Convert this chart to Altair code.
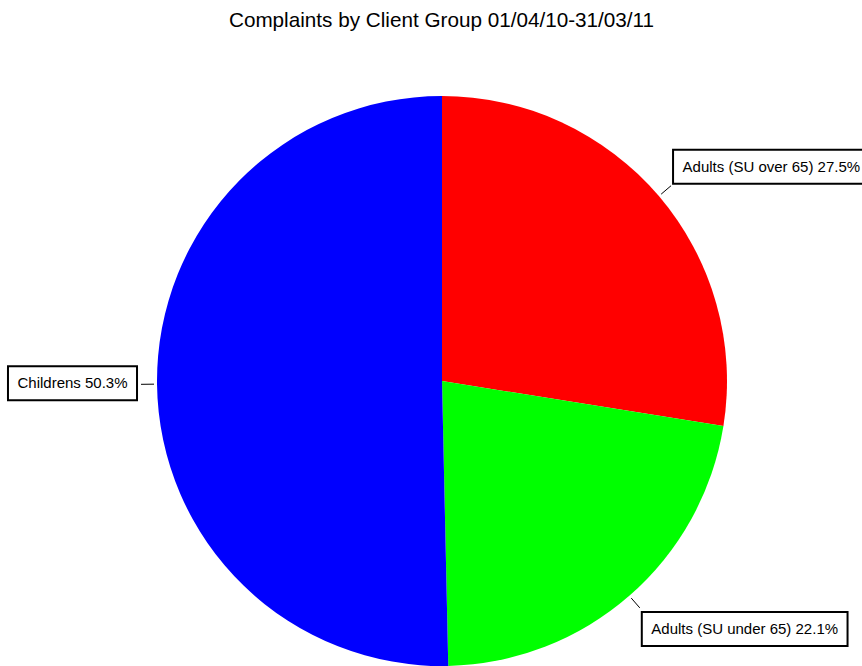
import altair as alt
import numpy as np
import pandas as pd

# ---- data -------------------------------------------------------------
labels = ["Adults (SU over 65)", "Adults (SU under 65)", "Childrens"]
shares = [27.5, 22.1, 50.3]
colors = ["#ff0000", "#00ff00", "#0000ff"]
title_text = "Complaints by Client Group 01/04/10-31/03/11"

# ---- layout / style ---------------------------------------------------
W, H = 862, 666
TOP = 40                   # top padding reserved for the title
CX, CY = 442, 381          # pie centre (page pixels)
R = 285                    # pie radius
X_DOM = [-CX, W - CX]
Y_DOM = [CY - H, CY - TOP]
FONT = "Liberation Sans"
FS = 15
BOX_H = 34
PAD = 9.5

# Arial / Liberation Sans advance widths (em)
CW = {
    "A": .667, "C": .722, "S": .667, "U": .722, "a": .556, "d": .556, "e": .556,
    "h": .556, "i": .222, "l": .222, "n": .556, "o": .556, "r": .333, "s": .5,
    "t": .278, "u": .556, "v": .5, " ": .278, "(": .333, ")": .333, ".": .278,
    "%": .889,
}


def text_w(s):
    return sum(CW.get(c, .556) for c in s) * FS


df = pd.DataFrame({"label": labels, "share": shares, "ord": range(len(labels))})
df["text"] = [f"{l} {s}%" for l, s in zip(labels, shares)]
tot = df["share"].sum()
mid = (df["share"].cumsum() - df["share"] / 2) / tot * 2 * np.pi
s, c = np.sin(mid), np.cos(mid)
r1, r2 = R + 3, R + 16
df["lx1"], df["ly1"] = r1 * s, r1 * c
df["lx2"], df["ly2"] = r2 * s, r2 * c

bx1, bx2, by1, by2 = [], [], [], []
for i, row in df.iterrows():
    bw = text_w(row["text"]) + 2 * PAD
    if s[i] > 0.2:
        x1 = row["lx2"] + 2
        x2 = x1 + bw
    elif s[i] < -0.2:
        x2 = row["lx2"] - 4
        x1 = x2 - bw
    else:
        x1 = row["lx2"] - bw / 2
        x2 = x1 + bw
    if c[i] > 0.3:
        y1 = row["ly2"] + 2
        y2 = y1 + BOX_H
    elif c[i] < -0.3:
        y2 = row["ly2"] - 4
        y1 = y2 - BOX_H
    else:
        y1 = row["ly2"] + 1 - BOX_H / 2
        y2 = y1 + BOX_H
    bx1.append(x1); bx2.append(x2); by1.append(y1); by2.append(y2)
df["bx1"], df["bx2"], df["by1"], df["by2"] = bx1, bx2, by1, by2
df["tx"] = df["bx1"] + PAD
df["ty"] = (df["by1"] + df["by2"]) / 2

xs = alt.Scale(domain=X_DOM, nice=False, zero=False)
ys = alt.Scale(domain=Y_DOM, nice=False, zero=False)

base = alt.Chart(df)

pie = base.mark_arc(outerRadius=R).encode(
    theta=alt.Theta("share:Q", stack=True),
    order=alt.Order("ord:Q"),
    color=alt.Color("label:N", scale=alt.Scale(domain=labels, range=colors), legend=None),
    x=alt.X(datum=0, type="quantitative", scale=xs, axis=None),
    y=alt.Y(datum=0, type="quantitative", scale=ys, axis=None),
)

leaders = base.mark_rule(color="black", strokeWidth=1).encode(
    x=alt.X("lx1:Q", scale=xs, axis=None), x2="lx2:Q",
    y=alt.Y("ly1:Q", scale=ys, axis=None), y2="ly2:Q",
)

boxes = base.mark_rect(fill="white", stroke="black", strokeWidth=2).encode(
    x=alt.X("bx1:Q", scale=xs, axis=None), x2="bx2:Q",
    y=alt.Y("by1:Q", scale=ys, axis=None), y2="by2:Q",
)

texts = base.mark_text(align="left", baseline="middle", font=FONT, fontSize=FS,
                       color="black").encode(
    x=alt.X("tx:Q", scale=xs, axis=None),
    y=alt.Y("ty:Q", scale=ys, axis=None),
    text="text:N",
)

chart = alt.layer(pie, leaders, boxes, texts).properties(
    width=W, height=H - TOP,
    padding={"top": TOP, "left": 0, "right": 0, "bottom": 0},
    autosize="none",
    title=alt.TitleParams(text=title_text, font=FONT, fontSize=20.7, fontWeight="normal",
                          color="black", anchor="middle", offset=13.5, dy=21, dx=10.5,
                          baseline="alphabetic"),
).configure_view(stroke=None)

chart.save("out.html", embed_options={"renderer": "svg", "actions": False})
